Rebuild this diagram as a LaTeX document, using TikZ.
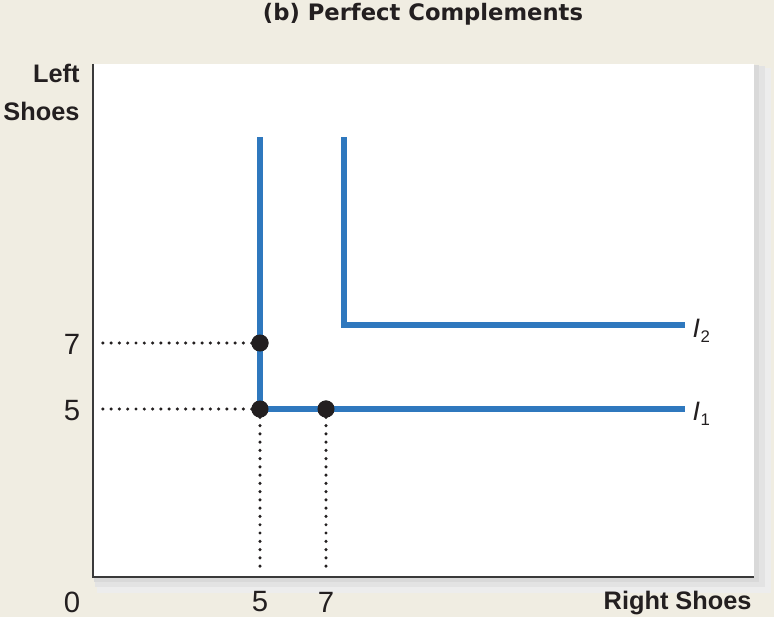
\documentclass[tikz,border=0pt]{standalone}
\usepackage{fontspec}
\setmainfont{Liberation Sans}
\newfontfamily\titlefont{DejaVu Sans}
\usetikzlibrary{positioning}

\definecolor{paper}{HTML}{F0EDE2}
\definecolor{curveblue}{HTML}{2F78BE}
\definecolor{dotblack}{HTML}{231F20}
\definecolor{axisgray}{HTML}{3A3A3A}

\newcommand{\curvelbl}[1]{{\itshape I}\kern0.5pt\raisebox{-3.8pt}{\fontsize{12.6}{12.6}\selectfont #1}}

\tikzset{every picture/.style={line width=0.75pt}}
\tikzset{
  curve/.style={curveblue, line width=4.9pt, line join=miter},
  axis/.style={axisgray, line width=1.1pt},
  guide/.style={dotblack, line width=2.6pt, line cap=round, dash pattern=on 0pt off 6.2pt},
  bundle/.style={circle, fill=dotblack, inner sep=0pt, minimum size=12.8pt},
  ticklbl/.style={inner sep=0pt, text=dotblack, font=\fontsize{22}{22}\selectfont},
  axislbl/.style={inner sep=0pt, text=dotblack, font=\fontsize{19}{19}\selectfont\bfseries},
  curvetag/.style={inner sep=0pt, anchor=base west, text=dotblack, font=\fontsize{20}{20}\selectfont},
}

\begin{document}
\begin{tikzpicture}[x=0.75pt,y=0.75pt,yscale=-1,xscale=1]
    \useasboundingbox[fill=paper] (0,0) rectangle (774,617);

    %Shadow and plot area
    \fill[black!7] (97,68) rectangle (771,593);
    \fill[black!11] (95,66) rectangle (765,587);
    \fill[black!15] (94,65) rectangle (759,582);
    \fill[white] (93,64) rectangle (754,577);

    %Axes
    \coordinate (origin) at (93,577);
    \coordinate (ytop) at (93,64);
    \coordinate (xend) at (754,577);
    \draw[axis] (ytop) -- (origin) -- (xend);

    %Guide ends on the axes
    \coordinate (y7) at (95,343);
    \coordinate (y5) at (95,409);
    \coordinate (x5) at (260,574);
    \coordinate (x7) at (326,574);

    %Consumption bundles
    \node[bundle] (b57) at (260,343) {};
    \node[bundle] (b55) at (260,409) {};
    \node[bundle] (b75) at (326,409) {};

    %Dotted guides
    \draw[guide] (b57.center) -- (y7);
    \draw[guide] (b55.center) -- (y5);
    \draw[guide] (b55.center) -- (x5);
    \draw[guide] (b75.center) -- (x7);

    %Indifference curve I1
    \coordinate (i1top) at (260,137);
    \coordinate (i1end) at (685,409);
    \draw[curve] (i1top) -- (b55.center) -- (i1end);
    %Indifference curve I2
    \coordinate (i2top) at (344,137);
    \coordinate (i2corner) at (344,325);
    \coordinate (i2end) at (685,325);
    \draw[curve] (i2top) -- (i2corner) -- (i2end);

    %Bundles on top of the curves
    \node[bundle] at (b57) {};
    \node[bundle] at (b55) {};
    \node[bundle] at (b75) {};

    % Text Node
    \node[ticklbl] (lbl7) at (72,344) {7};
    % Text Node
    \node[ticklbl] (lbl5) at (72,411) {5};
    % Text Node
    \node[ticklbl] (lbl0) at (72,602) {0};
    % Text Node
    \node[ticklbl] (lblx5) at (260,602) {5};
    % Text Node
    \node[ticklbl] (lblx7) at (326,602) {7};
    % Text Node
    \node[axislbl, anchor=east] (lblleft) at (80,73) {Left};
    % Text Node
    \node[axislbl, anchor=east] (lblshoes) at (80,111) {Shoes};
    % Text Node
    \node[axislbl, anchor=east] (lblright) at (752,603) {Right Shoes};
    % Text Node
    \node[curvetag] (lbli2) at (692,337) {\curvelbl{2}};
    % Text Node
    \node[curvetag] (lbli1) at (692,420) {\curvelbl{1}};
    % Text Node
    \node[inner sep=0pt, text=dotblack, font=\titlefont\fontsize{17}{17}\selectfont\bfseries] (title) at (423,14) {(b) Perfect Complements};

\end{tikzpicture}
\end{document}
